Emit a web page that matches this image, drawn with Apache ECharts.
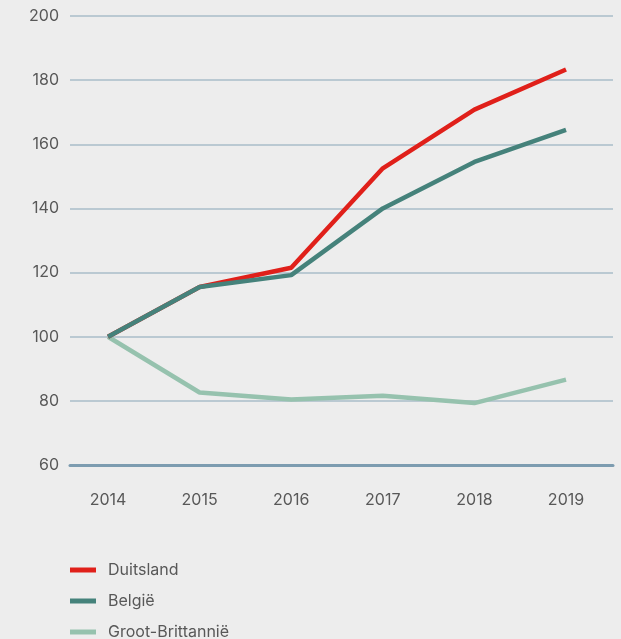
<!DOCTYPE html>
<html>
<head>
<meta charset="utf-8">
<script src="https://cdn.jsdelivr.net/npm/echarts@6/dist/echarts.min.js"></script>
<style>
  html, body { margin: 0; padding: 0; background: #ededed; }
  #chart { width: 621px; height: 639px; }
</style>
</head>
<body>
<div id="chart"></div>
<script>
  // jaren en indexwaarden (2014 = 100)
  const years = [2014, 2015, 2016, 2017, 2018, 2019];
  const duitsland = [100, 115.5, 121.5, 152.5, 170.8, 183.3];
  const belgie = [100, 115.5, 119.2, 140, 154.5, 164.5];
  const grootBrittannie = [100, 82.6, 80.4, 81.6, 79.3, 86.6];
  const yTicks = [60, 80, 100, 120, 140, 160, 180, 200];

  const textColor = '#585858';
  const font = 'Inter, sans-serif';

  const pairs = (vals) => years.map((y, i) => [y, vals[i]]);

  const chart = echarts.init(document.getElementById('chart'));
  chart.setOption({
    backgroundColor: '#ededed',
    animation: false,
    grid: { left: 70, right: 8, top: 16, bottom: 174 },
    xAxis: {
      type: 'value',
      min: 2013.585,
      max: 2019.513,
      axisLine: { show: true, onZero: false, lineStyle: { color: '#7d9cb0', width: 3 } },
      axisTick: { show: false },
      splitLine: { show: false },
      axisLabel: {
        customValues: years,
        formatter: (v) => String(v),
        margin: 27,
        color: textColor,
        fontSize: 16,
        fontFamily: font
      }
    },
    yAxis: {
      type: 'value',
      min: yTicks[0],
      max: yTicks[yTicks.length - 1],
      interval: 20,
      axisLine: { show: false },
      axisTick: { show: false },
      splitLine: { lineStyle: { color: '#a9bcc8', width: 1.5 } },
      axisLabel: { margin: 11, color: textColor, fontSize: 16, fontFamily: font }
    },
    legend: {
      orient: 'vertical',
      left: 70,
      top: 562,
      height: 90,
      padding: 0,
      itemGap: 15,
      itemWidth: 26,
      itemHeight: 5,
      icon: 'rect',
      textStyle: { color: textColor, fontSize: 16, fontFamily: font, padding: [0, 0, 0, 7] },
      data: ['Duitsland', 'België', 'Groot-Brittannië']
    },
    series: [
      {
        name: 'Groot-Brittannië', type: 'line', data: pairs(grootBrittannie),
        symbol: 'none', color: '#96c2ae', lineStyle: { width: 4.5 }, z: 2
      },
      {
        name: 'Duitsland', type: 'line', data: pairs(duitsland),
        symbol: 'none', color: '#e0201a', lineStyle: { width: 4.5 }, z: 3
      },
      {
        name: 'België', type: 'line', data: pairs(belgie),
        symbol: 'none', color: '#45827b', lineStyle: { width: 4.5 }, z: 4
      }
    ]
  });
  window.onresize = function () { chart.resize(); };
</script>
</body>
</html>
